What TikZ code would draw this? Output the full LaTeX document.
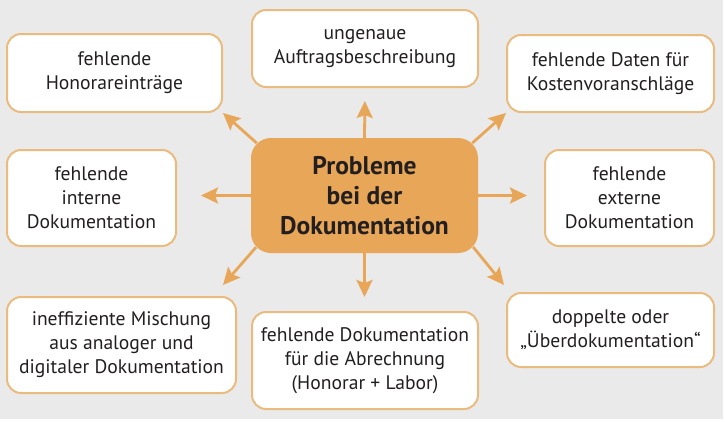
\documentclass[tikz,border=0pt]{standalone}
\usepackage{fontspec}
\setmainfont{PT Sans}
\usetikzlibrary{arrows.meta}

\definecolor{grau}{RGB}{234,234,234}
\definecolor{orange}{RGB}{232,167,88}
\definecolor{rand}{RGB}{234,187,126}
\definecolor{schrift}{RGB}{35,31,32}

\begin{document}
\begin{tikzpicture}[x=1pt, y=-1pt,
    box/.style={draw=rand, line width=2pt, fill=white, rounded corners=14pt,
      align=center, text=schrift, inner sep=0pt,
      font=\fontsize{19.6}{24}\selectfont},
    kern/.style={fill=orange, rounded corners=20pt, align=center, text=schrift,
      inner sep=0pt, font=\fontsize{25.5}{30}\selectfont\bfseries},
    pfeil/.style={draw=orange, line width=2.8pt,
      -{Stealth[length=17pt, width=16pt, inset=3pt]}}]
  \useasboundingbox (0,0) rectangle (725,421);
  \fill[grau] (0,0) rectangle (723,419);

  \node (ctr) at (364.5,195.5) [kern, minimum width=227pt, minimum height=115pt]
    {Probleme\\bei der\\Dokumentation};

  \node (hon) at (114.5, 73.0) [box, minimum width=215pt, minimum height=78pt]
    {fehlende\\Honorareinträge};
  \node (auf) at (365.0, 48.5) [box, minimum width=226pt, minimum height=77pt]
    {ungenaue\\Auftragsbeschreibung};
  \node (kos) at (610.5, 73.5) [box, minimum width=207pt, minimum height=77pt]
    {fehlende Daten für\\Kostenvoranschläge};
  \node (int) at ( 91.5,198.0) [box, minimum width=169pt, minimum height=96pt]
    {fehlende\\interne\\Dokumentation};
  \node (ext) at (629.5,198.0) [box, minimum width=169pt, minimum height=96pt]
    {fehlende\\externe\\Dokumentation};
  \node (mix) at (121.5,345.0) [box, minimum width=229pt, minimum height=96pt]
    {ineffiziente Mischung\\aus analoger und\\digitaler Dokumentation};
  \node (abr) at (365.0,360.5) [box, minimum width=226pt, minimum height=97pt]
    {fehlende Dokumentation\\für die Abrechnung\\(Honorar + Labor)};
  \node (dop) at (610.5,330.0) [box, minimum width=207pt, minimum height=74pt]
    {doppelte oder\\„Überdokumentation“};

  \coordinate (mixtip) at (223,285);
  \coordinate (doptip) at (504,285);

  \draw[pfeil, shorten >=13pt] (ctr.north) -- (auf.south);
  \draw[pfeil, shorten >=14pt] (ctr.south) -- (ctr.south |- abr.north);
  \draw[pfeil, shorten >=24pt] (ctr.west) -- (ctr.west -| int.east);
  \draw[pfeil, shorten >=17pt] (ctr.east) -- (ctr.east -| ext.west);
  \draw[pfeil, shorten <=-8pt] (ctr.north west) -- (hon.south east);
  \draw[pfeil, shorten <=-8pt] (ctr.north east) -- (kos.south west);
  \draw[pfeil, shorten <=-8pt] (ctr.south west) -- (mixtip);
  \draw[pfeil, shorten <=-8pt] (ctr.south east) -- (doptip);
\end{tikzpicture}
\end{document}
